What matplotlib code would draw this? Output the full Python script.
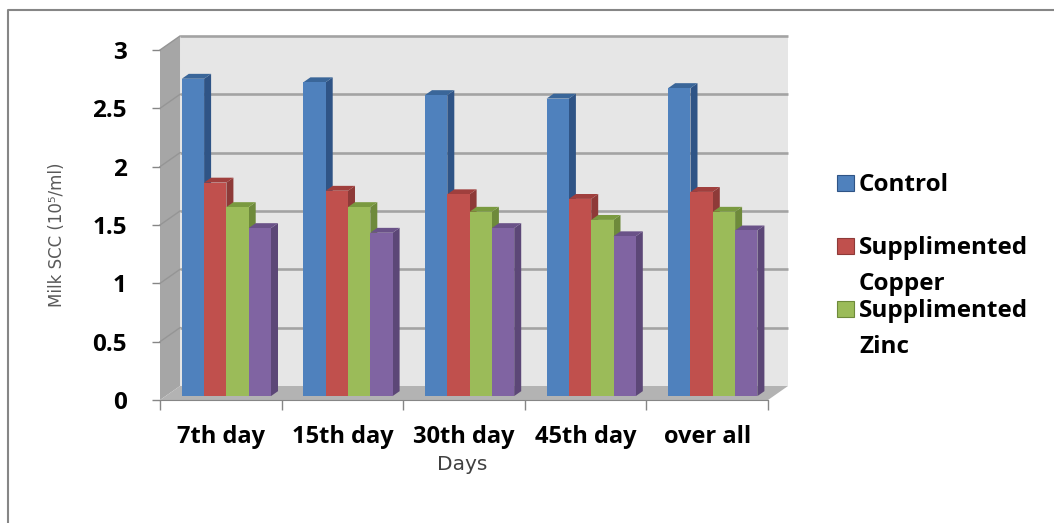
"""Milk somatic cell count by day for the supplementation groups, drawn as 3-D style bars"""
import numpy as np
from matplotlib import pyplot as plt
from matplotlib.patches import Polygon, Rectangle
from matplotlib.lines import Line2D

days = ['7th day', '15th day', '30th day', '45th day', 'over all']
series = ['Control', 'Supplimented\nCopper', 'Supplimented\nZinc', 'Supplimented\nCopper + Zinc']
control = [2.72, 2.69, 2.58, 2.55, 2.64]
copper = [1.83, 1.76, 1.73, 1.69, 1.75]
zinc = [1.62, 1.62, 1.58, 1.51, 1.58]
copper_zinc = [1.44, 1.40, 1.44, 1.37, 1.42]
y_ticks = [0, 0.5, 1, 1.5, 2, 2.5, 3]
y_tick_labels = ['0', '0.5', '1', '1.5', '2', '2.5', '3']

# front, side, top shades of each series
faces = [('#4F81BD', '#2F5486', '#3A6699'),
         ('#C0504D', '#8E3A38', '#A03F3D'),
         ('#9BBB59', '#6E8A3B', '#7A9A40'),
         ('#8064A2', '#5C4777', '#6A5288')]

W, H = 1054, 523
DX, DY = 0.1645, 0.12      # depth of the box, data units
F0, F1 = 0.28, 0.63        # bar front / back as a share of the depth
BAR_W = 0.1834
LABEL_FONT = ['Open Sans', 'DejaVu Sans']

plt.rcParams['font.family'] = LABEL_FONT


def fx(px):
    return px / W


def fy(py):
    return 1 - py / H


def box(ax, n_cat, top):
    """back wall, side wall, floor and the grid lines on them"""
    kw = dict(clip_on=False, zorder=1)
    ax.add_patch(Polygon([(DX, DY), (n_cat + DX, DY), (n_cat + DX, top + DY), (DX, top + DY)],
                         facecolor='#e6e6e6', edgecolor='none', **kw))
    ax.add_patch(Polygon([(0, 0), (DX, DY), (DX, top + DY), (0, top)],
                         facecolor='#a6a6a6', edgecolor='none', **kw))
    ax.add_patch(Polygon([(0, 0), (n_cat, 0), (n_cat + DX, DY), (DX, DY)],
                         facecolor='#b3b3b3', edgecolor='none', **kw))
    for g in y_ticks[1:]:
        ax.plot([DX, n_cat + DX], [g + DY, g + DY], color='#a3a3a3', lw=1.9,
                clip_on=False, zorder=2, solid_capstyle='butt')
        ax.plot([0, DX], [g, g + DY], color='#959595', lw=1.0, clip_on=False, zorder=2)


def bar3d(ax, x0, v, colors, z):
    front, side, top = colors
    xa, ya = x0 + F0 * DX, F0 * DY
    xb, yb = x0 + F1 * DX, F1 * DY
    kw = dict(clip_on=False, edgecolor='none', zorder=z)
    ax.add_patch(Polygon([(xa + BAR_W, ya), (xb + BAR_W, yb), (xb + BAR_W, v + yb), (xa + BAR_W, v + ya)],
                         facecolor=side, **kw))
    ax.add_patch(Polygon([(xa, v + ya), (xa + BAR_W, v + ya), (xb + BAR_W, v + yb), (xb, v + yb)],
                         facecolor=top, **kw))
    ax.add_patch(Rectangle((xa, ya), BAR_W, v, facecolor=front, **kw))


def main():
    fig = plt.figure(figsize=(W / 100, H / 100), dpi=100)
    ax = fig.add_axes([fx(160), fy(400), fx(768) - fx(160), fy(50) - fy(400)])
    n = len(days)
    ax.set_xlim(0, n)
    ax.set_ylim(0, 3)
    ax.patch.set_visible(False)

    box(ax, n, 3)

    values = [control, copper, zinc, copper_zinc]
    z = 3
    for i in range(n):
        left = i + 0.5 - len(values) * BAR_W / 2
        for k, vals in enumerate(values):
            bar3d(ax, left + k * BAR_W, vals[i], faces[k], z)
            z += 1

    for s in ['top', 'right', 'left']:
        ax.spines[s].set_visible(False)
    ax.spines['bottom'].set_color('#868686')
    ax.spines['bottom'].set_zorder(50)

    ax.set_yticks(y_ticks)
    ax.set_yticklabels(y_tick_labels, fontsize=17.5, fontweight='bold')
    ax.tick_params(axis='y', length=6, width=1, color='#868686', pad=18)

    ax.set_xticks(np.arange(n) + 0.5)
    ax.set_xticklabels(days, fontsize=17, fontweight='bold')
    ax.set_xticks(np.arange(n + 1), minor=True)
    ax.tick_params(axis='x', which='major', length=0, pad=18)
    ax.tick_params(axis='x', which='minor', length=7, width=1, color='#868686')

    fig.text(fx(57), fy(235), 'Milk SCC (10\u2075/ml)', rotation=90, ha='center', va='center',
             fontsize=12, color='#595959', family=['DejaVu Sans'])
    fig.text(fx(462), fy(464), 'Days', ha='center', va='center', fontsize=14.5,
             color='#404040', family=['DejaVu Sans'])

    # legend, the last entry falls outside the legend box
    for i, name in enumerate(series[:3]):
        base = 191 + 63 * i
        fig.patches.append(Rectangle((fx(837), fy(base)), fx(17), fy(0) - fy(16),
                                     transform=fig.transFigure, facecolor=faces[i][0],
                                     edgecolor=faces[i][1], lw=0.8))
        for j, line in enumerate(name.split('\n')):
            fig.text(fx(859), fy(base + 36 * j), line, ha='left', va='baseline',
                     fontsize=17.5, fontweight='bold')

    # chart area border
    fig.add_artist(Line2D([fx(8), fx(8), 1], [0, fy(10), fy(10)], color='#868686', lw=1.5))

    fig.savefig('out.png', dpi=100)


if __name__ == '__main__':
    main()
